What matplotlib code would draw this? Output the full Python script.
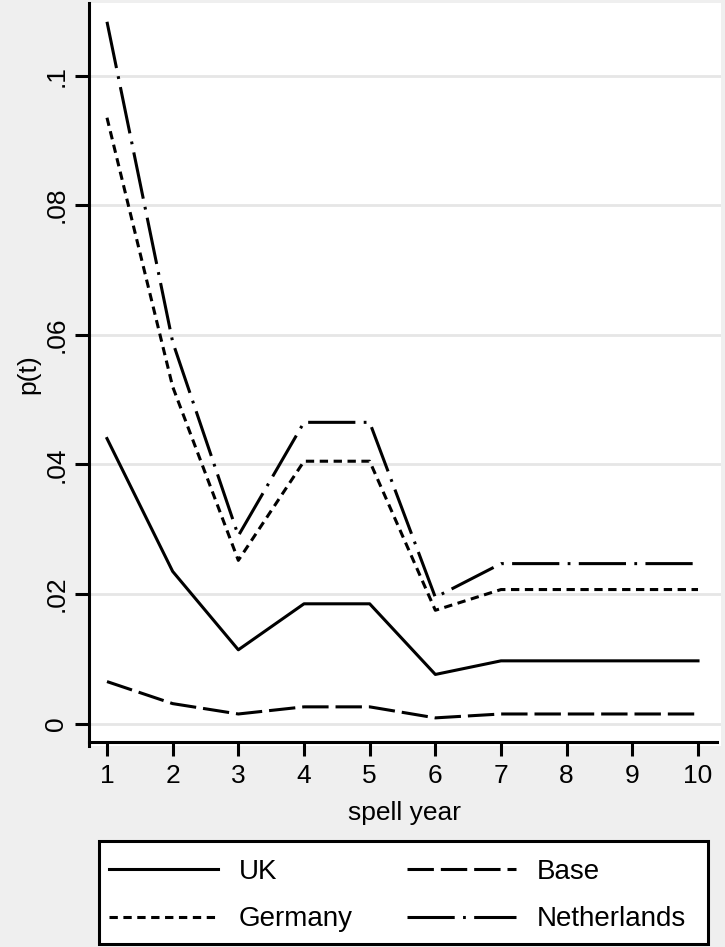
import matplotlib
matplotlib.use("Agg")
import matplotlib.pyplot as plt
from matplotlib.patches import Rectangle

plt.rcParams['font.family'] = ['Liberation Sans', 'DejaVu Sans']
plt.rcParams['lines.scale_dashes'] = False

spell_year = [1, 2, 3, 4, 5, 6, 7, 8, 9, 10]
uk = [0.0440, 0.0235, 0.0114, 0.0185, 0.0185, 0.0076, 0.0097, 0.0097, 0.0097, 0.0097]
base = [0.0065, 0.0031, 0.0015, 0.0026, 0.0026, 0.0009, 0.0015, 0.0015, 0.0015, 0.0015]
germany = [0.0935, 0.0520, 0.0252, 0.0405, 0.0405, 0.0175, 0.0207, 0.0207, 0.0207, 0.0207]
netherlands = [0.1083, 0.0589, 0.0290, 0.0465, 0.0465, 0.0195, 0.0247, 0.0247, 0.0247, 0.0247]

yticks = [0, 0.02, 0.04, 0.06, 0.08, 0.1]
ytick_labels = ["0", ".02", ".04", ".06", ".08", ".1"]

W, H = 725, 947
bg = "#efefef"
fig = plt.figure(figsize=(W / 100, H / 100), dpi=100, facecolor=bg)
ax = fig.add_axes([89 / W, 1 - 746 / H, 632 / W, 743 / H])
ax.set_facecolor("white")

lw = 2.2
l_uk, = ax.plot(spell_year, uk, color="black", lw=lw, label="UK")
l_ge, = ax.plot(spell_year, germany, color="black", lw=lw, label="Germany",
                dashes=(6, 4))
l_ba, = ax.plot(spell_year, base, color="black", lw=lw, label="Base",
                dashes=(19, 5))
l_nl, = ax.plot(spell_year, netherlands, color="black", lw=lw, label="Netherlands",
                dashes=(34, 6, 2, 6))

ax.set_xlim(0.726, 10.35)
ax.set_ylim(-0.00344, 0.1112)
ax.set_xticks(spell_year)
ax.set_yticks(yticks)
ax.set_yticklabels(ytick_labels, rotation=90, va="center")
ax.grid(axis="y", color="#e6e6e6", lw=2)
ax.set_axisbelow(True)

for s in ["top", "right"]:
    ax.spines[s].set_visible(False)
for s in ["left", "bottom"]:
    ax.spines[s].set_linewidth(2.2)
ax.spines["bottom"].set_position(("outward", -3))
ax.spines["bottom"].set_bounds(0.726, 10.29)

ax.tick_params(axis="both", length=10, width=2.2, labelsize=19, direction="out")
ax.tick_params(axis="x", pad=6)
ax.tick_params(axis="y", pad=5)

ax.set_xlabel("spell year", fontsize=19, labelpad=9)
ax.set_ylabel("p(t)", fontsize=19, labelpad=3)

# legend box drawn separately so its size matches
box = Rectangle((99 / W, 1 - 944 / H), 609 / W, 103 / H, transform=fig.transFigure,
                facecolor="white", edgecolor="black", lw=2.2, zorder=1)
fig.add_artist(box)

fs = 20
leg = fig.legend(handles=[l_uk, l_ge, l_ba, l_nl], ncol=2, loc="upper left",
                 bbox_to_anchor=(99 / W, 1 - 849 / H), fontsize=fs,
                 handlelength=3.92, handletextpad=0.76, columnspacing=1.94,
                 borderaxespad=0, borderpad=0.36, labelspacing=0.77, frameon=False)
leg.set_zorder(2)

fig.savefig("out.png", dpi=100, facecolor=bg)
